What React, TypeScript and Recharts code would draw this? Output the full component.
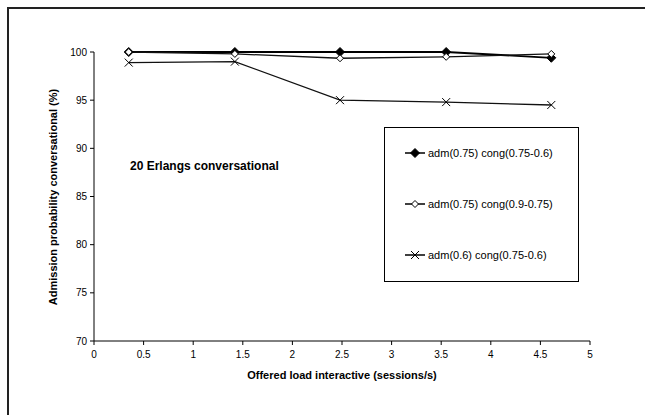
import { LineChart, Line, XAxis, YAxis } from 'recharts';

const loads = [0.35, 1.42, 2.48, 3.55, 4.61];
const adm75cong75 = [100, 100, 100, 100, 99.4];
const adm75cong90 = [100, 99.8, 99.35, 99.5, 99.8];
const adm60cong75 = [98.9, 99.0, 95.0, 94.8, 94.5];

const xTicks = [0, 0.5, 1, 1.5, 2, 2.5, 3, 3.5, 4, 4.5, 5];
const yTicks = [70, 75, 80, 85, 90, 95, 100];

const seriesNames = [
  'adm(0.75) cong(0.75-0.6)',
  'adm(0.75) cong(0.9-0.75)',
  'adm(0.6) cong(0.75-0.6)',
];

const data = loads.map((x, i) => ({
  x,
  s1: adm75cong75[i],
  s2: adm75cong90[i],
  s3: adm60cong75[i],
}));

const FONT = '"Liberation Sans", Arial, sans-serif';

type Shape = 'filled' | 'open' | 'cross';

function Marker({ cx, cy, shape }: { cx: number; cy: number; shape: Shape }) {
  if (shape === 'cross') {
    const r = 4;
    return (
      <path
        d={`M${cx - r},${cy - r}L${cx + r},${cy + r}M${cx - r},${cy + r}L${cx + r},${cy - r}`}
        stroke="#000"
        strokeWidth={1}
        fill="none"
      />
    );
  }
  const r = shape === 'filled' ? 4.5 : 3.5;
  return (
    <path
      d={`M${cx},${cy - r}L${cx + r},${cy}L${cx},${cy + r}L${cx - r},${cy}Z`}
      fill={shape === 'filled' ? '#000' : '#fff'}
      stroke="#000"
      strokeWidth={1}
    />
  );
}

const makeDot = (shape: Shape) => (props: any) => {
  const { cx, cy, index } = props;
  return (
    <g key={`${shape}-${index}`}>
      <Marker cx={cx} cy={cy} shape={shape} />
    </g>
  );
};

const shapes: Shape[] = ['filled', 'open', 'cross'];

function LegendBox() {
  return (
    <div
      style={{
        position: 'absolute',
        left: 384,
        top: 127,
        width: 195,
        height: 155,
        border: '1px solid #000',
        background: '#fff',
        boxSizing: 'border-box',
      }}
    >
      {seriesNames.map((name, i) => (
        <div
          key={name}
          style={{
            position: 'absolute',
            left: 19,
            top: 18 + i * 51,
            display: 'flex',
            alignItems: 'center',
            fontFamily: FONT,
            fontSize: 11,
            color: '#000',
            whiteSpace: 'nowrap',
          }}
        >
          <svg width={22} height={14} style={{ marginRight: 2 }}>
            <line x1={1} y1={7} x2={21} y2={7} stroke="#000" strokeWidth={1.5} />
            <Marker cx={11} cy={7} shape={shapes[i]} />
          </svg>
          {name}
        </div>
      ))}
    </div>
  );
}

export default function App() {
  return (
    <div
      style={{
        position: 'absolute',
        left: 0,
        top: 0,
        width: 645,
        height: 415,
        overflow: 'hidden',
        background: '#fff',
      }}
    >
      <div
        style={{
          position: 'absolute',
          left: 7,
          top: 7,
          width: 638,
          height: 408,
          borderTop: '2px solid #222',
          borderLeft: '2px solid #222',
          boxSizing: 'border-box',
        }}
      />
      <LineChart
        width={645}
        height={415}
        data={data}
        margin={{ top: 52, right: 55, bottom: 0, left: 34 }}
        style={{ position: 'absolute', left: 0, top: 0 }}
      >
        <XAxis
          dataKey="x"
          type="number"
          domain={[0, 5]}
          ticks={xTicks}
          height={74}
          stroke="#000"
          tickSize={4}
          tick={{ fill: '#000', fontSize: 10, fontFamily: FONT }}
          tickMargin={6}
          label={{
            value: 'Offered load interactive (sessions/s)',
            position: 'insideTop',
            offset: 30,
            style: { fontFamily: FONT, fontSize: 11, fontWeight: 'bold', fill: '#000' },
          }}
        />
        <YAxis
          type="number"
          domain={[70, 100]}
          ticks={yTicks}
          width={60}
          stroke="#000"
          tickSize={4}
          tickMargin={3}
          tick={{ fill: '#000', fontSize: 10, fontFamily: FONT }}
          label={{
            content: () => (
              <text
                x={57}
                y={197}
                transform="rotate(-90 57 197)"
                textAnchor="middle"
                fontFamily={FONT}
                fontSize={11}
                fontWeight="bold"
                fill="#000"
              >
                Admission probability conversational (%)
              </text>
            ),
          }}
        />
        <Line
          dataKey="s1"
          name={seriesNames[0]}
          stroke="#000"
          strokeWidth={1.8}
          dot={makeDot('filled')}
          isAnimationActive={false}
        />
        <Line
          dataKey="s2"
          name={seriesNames[1]}
          stroke="#111"
          strokeWidth={1.3}
          dot={makeDot('open')}
          isAnimationActive={false}
        />
        <Line
          dataKey="s3"
          name={seriesNames[2]}
          stroke="#111"
          strokeWidth={1.3}
          dot={makeDot('cross')}
          isAnimationActive={false}
        />
      </LineChart>
      <LegendBox />
      <div
        style={{
          position: 'absolute',
          left: 130,
          top: 159,
          fontFamily: FONT,
          fontSize: 12,
          fontWeight: 'bold',
          color: '#000',
          whiteSpace: 'nowrap',
        }}
      >
        20 Erlangs conversational
      </div>
    </div>
  );
}
